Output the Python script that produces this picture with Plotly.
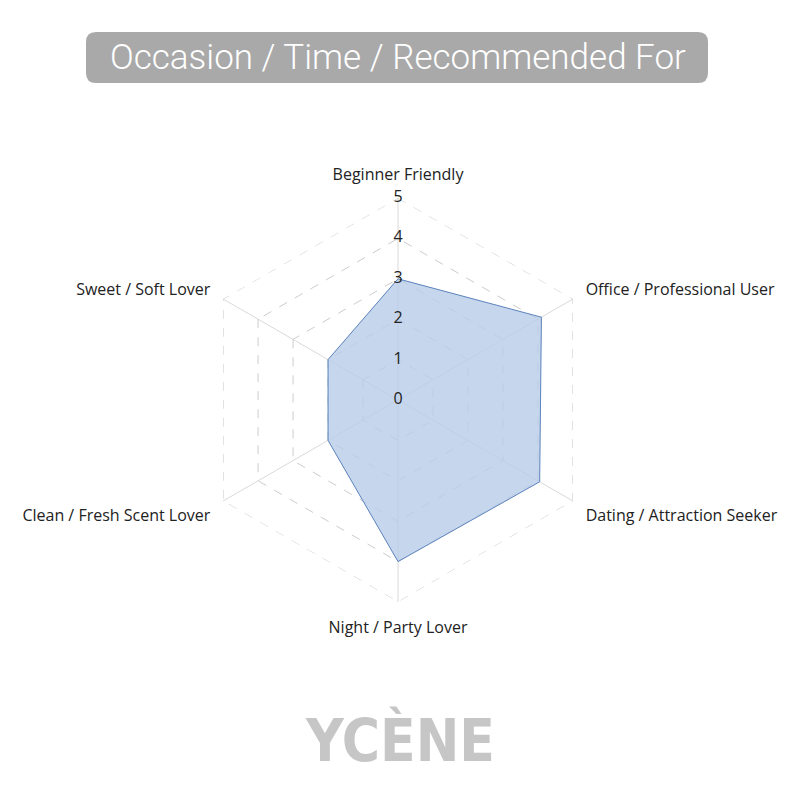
import plotly.graph_objects as go

# categories and scores
categories = ['Beginner Friendly', 'Office / Professional User', 'Dating / Attraction Seeker',
              'Night / Party Lover', 'Clean / Fresh Scent Lover', 'Sweet / Soft Lover']
scores = [3, 4.1, 4.05, 4, 2, 2]
tick_vals = [0, 1, 2, 3, 4, 5]
tick_text = ['0', '1', '2', '3', '4', '5']

title_text = 'Occasion / Time / Recommended For'
brand = 'YCÈNE'

fig = go.Figure()

# outer ring of the grid (plotly leaves it out at the range edge)
fig.add_trace(go.Scatterpolar(
    r=[tick_vals[-1]] * (len(categories) + 1),
    theta=categories + [categories[0]],
    mode='lines',
    line=dict(color='#cccccc', width=1, dash='dash'),
    hoverinfo='skip',
    showlegend=False,
))

fig.add_trace(go.Scatterpolar(
    r=scores + [scores[0]],
    theta=categories + [categories[0]],
    fill='toself',
    fillcolor='rgba(183,204,233,0.8)',
    line=dict(color='#5b82bb', width=1),
    mode='lines',
    hoverinfo='skip',
    showlegend=False,
))

# radial numbers sitting on the vertical spoke
fig.add_trace(go.Scatterpolar(
    r=[v + 0.0001 for v in tick_vals],
    theta=[categories[0]] * len(tick_vals),
    mode='text',
    text=tick_text,
    cliponaxis=False,
    textfont=dict(family='Open Sans', size=16, color='#222222'),
    hoverinfo='skip',
    showlegend=False,
))

fig.update_layout(
    width=800, height=800,
    margin=dict(l=0, r=0, t=0, b=0),
    paper_bgcolor='white',
    plot_bgcolor='white',
    polar=dict(
        domain=dict(x=[0.235, 0.74], y=[0.2575, 0.7625]),
        bgcolor='white',
        gridshape='linear',
        radialaxis=dict(
            range=[0, 5.001],
            tickvals=tick_vals,
            showticklabels=False,
            ticks='',
            showline=False,
            gridcolor='#cccccc',
            griddash='dash',
            gridwidth=1,
            angle=90,
        ),
        angularaxis=dict(
            rotation=90,
            direction='clockwise',
            gridcolor='#d9d9d9',
            griddash='solid',
            showline=False,
            ticks='outside',
            ticklen=11,
            tickcolor='rgba(0,0,0,0)',
            tickfont=dict(family='Open Sans', size=16, color='#222222'),
        ),
    ),
    font=dict(family='Open Sans'),
)

# title banner
fig.add_shape(
    type='path',
    xref='paper', yref='paper',
    path='M 0.11 0.97 L 0.8625 0.97 Q 0.875 0.97 0.875 0.9575 L 0.875 0.91875 '
         'Q 0.875 0.90625 0.8625 0.90625 L 0.11 0.90625 Q 0.0975 0.90625 0.0975 0.91875 '
         'L 0.0975 0.9575 Q 0.0975 0.97 0.11 0.97 Z',
    fillcolor='#a9a9a9',
    line=dict(width=0),
    layer='below',
)
fig.add_annotation(
    x=0.488, y=0.9385, xref='paper', yref='paper',
    xanchor='center', yanchor='middle',
    text=title_text, showarrow=False,
    font=dict(family='Roboto', size=35, color='white', weight=300),
)

fig.add_annotation(
    x=0.49, y=0.085, xref='paper', yref='paper',
    xanchor='center', yanchor='middle',
    text='<b>' + brand + '</b>', showarrow=False,
    font=dict(family='DejaVu Sans Condensed, Roboto Condensed, Roboto', size=58, color='#c6c6c6'),
)

fig.write_html('out.html')
